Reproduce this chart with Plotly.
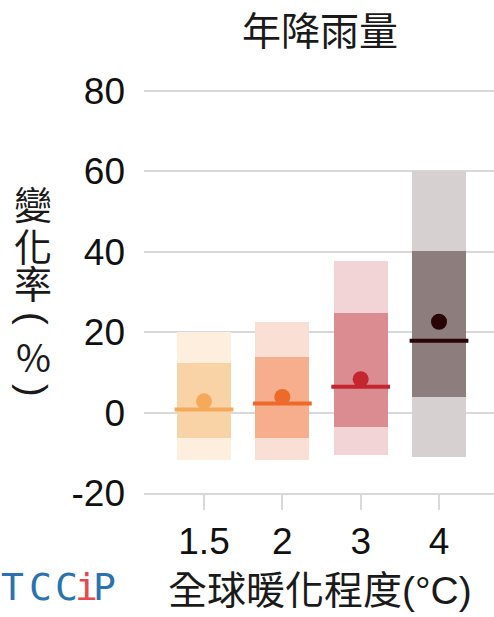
import plotly.graph_objects as go

# ---- data ----
categories = ["1.5", "2", "3", "4"]
outer_low = [-11.75, -11.75, -10.6, -11.0]
outer_high = [20.0, 22.6, 37.6, 60.0]
inner_low = [-6.35, -6.35, -3.5, 3.8]
inner_high = [12.25, 13.9, 24.9, 40.3]
median_vals = [0.8, 2.25, 6.4, 17.9]
mean_vals = [2.8, 3.9, 8.3, 22.6]
y_ticks = [-20, 0, 20, 40, 60, 80]

outer_colors = ["#FDEEDE", "#FADFD5", "#F2D3D6", "#D7D0D1"]
inner_colors = ["#F9D2A5", "#F6AE8D", "#DB8C91", "#8E7D7D"]
accent_colors = ["#F5A95A", "#EE6A2B", "#C4262F", "#2A0306"]

title_text = "年降雨量"
x_title = "全球暖化程度(°C)"
y_title_chars = ["變", "化", "率", "(", "%", ")"]

W, H = 494, 617
L, R, T, B = 144, 0, 89, 124
plot_w = W - L - R
plot_h = H - T - B

LAT = "Liberation Sans, Arial, Noto Sans CJK TC"
CJK = "Noto Sans CJK TC, Liberation Sans"

fig = go.Figure()
fig.add_trace(go.Bar(
    x=categories, y=[h - l for h, l in zip(outer_high, outer_low)], base=outer_low,
    width=0.69, marker=dict(color=outer_colors, line=dict(width=0)), hoverinfo="skip"))
fig.add_trace(go.Bar(
    x=categories, y=[h - l for h, l in zip(inner_high, inner_low)], base=inner_low,
    width=0.69, marker=dict(color=inner_colors, line=dict(width=0)), hoverinfo="skip"))
fig.add_trace(go.Scatter(
    x=categories, y=median_vals, mode="markers",
    marker=dict(symbol="line-ew", size=42, color=accent_colors,
                line=dict(width=4, color=accent_colors)), hoverinfo="skip"))
fig.add_trace(go.Scatter(
    x=categories, y=mean_vals, mode="markers",
    marker=dict(symbol="circle", size=16, color=accent_colors, line=dict(width=0)),
    hoverinfo="skip"))

def px_x(p):
    return (p - L) / plot_w

def px_y(p):
    return (H - B - p) / plot_h

annotations = []
annotations.append(dict(text=title_text, x=px_x(320), y=px_y(28), xref="paper", yref="paper",
                        showarrow=False, xanchor="center", yanchor="middle",
                        font=dict(family=CJK, size=39, color="#1a1a1a")))
annotations.append(dict(text=x_title, x=px_x(320), y=px_y(590), xref="paper", yref="paper",
                        showarrow=False, xanchor="center", yanchor="middle",
                        font=dict(family=LAT, size=39, color="#1a1a1a")))
y_char_pos = [202, 244, 281, 318, 356, 390]
for ch, py in zip(y_title_chars, y_char_pos):
    rot = 90 if ch in "()" else 0
    annotations.append(dict(text=ch, x=px_x(33), y=px_y(py), xref="paper", yref="paper",
                            showarrow=False, xanchor="center", yanchor="middle", textangle=rot,
                            font=dict(family=CJK if rot == 0 else LAT, size=38, color="#1a1a1a")))
logo = [("T", 12, "#2B73B0"), ("C", 40, "#2B73B0"), ("C", 66, "#2B73B0"),
        ("i", 86, "#E9474D"), ("P", 104, "#2B73B0")]
for ch, px, col in logo:
    annotations.append(dict(text=ch, x=px_x(px), y=px_y(587), xref="paper", yref="paper",
                            showarrow=False, xanchor="center", yanchor="middle",
                            font=dict(family="DejaVu Sans Mono", size=38, color=col)))

fig.update_layout(
    width=W, height=H,
    margin=dict(l=L, r=R, t=T, b=B, pad=0),
    paper_bgcolor="white", plot_bgcolor="white",
    barmode="overlay", bargap=0, showlegend=False,
    annotations=annotations,
    xaxis=dict(type="category", range=[-0.766, 3.702], showgrid=False, zeroline=False,
               showline=True, linecolor="#d9d9d9", linewidth=1.5,
               ticks="outside", ticklen=15, tickwidth=1.5, tickcolor="#d9d9d9",
               tickfont=dict(family=LAT, size=37, color="#111")),
    yaxis=dict(range=[-20, 80.5], tickvals=y_ticks, ticktext=[str(v) for v in y_ticks],
               showgrid=True, gridcolor="#d9d9d9", gridwidth=1.5, zeroline=False,
               showline=False, ticks="", ticklabelstandoff=18,
               tickfont=dict(family=LAT, size=37, color="#111")),
)

fig.write_html("out.html")
